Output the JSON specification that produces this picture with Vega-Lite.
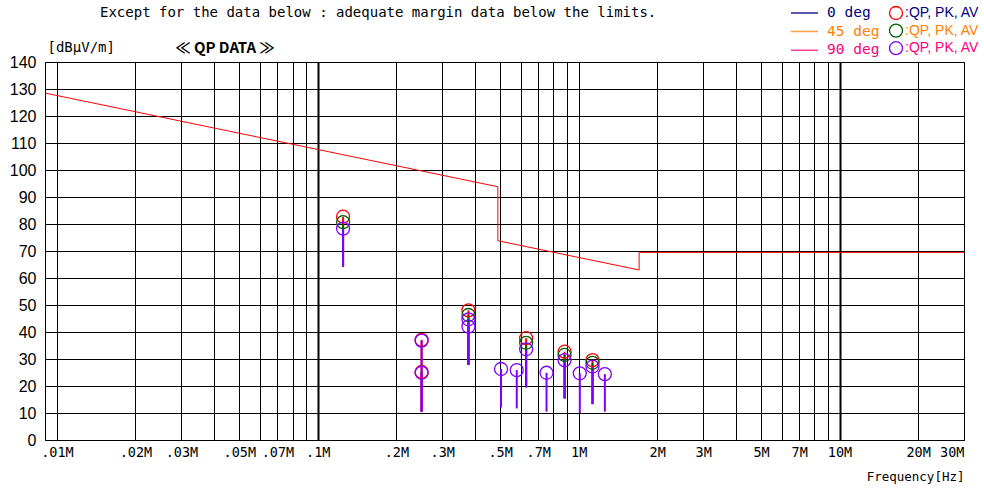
{
  "$schema": "https://vega.github.io/schema/vega-lite/v6.json",
  "width": 919,
  "height": 378,
  "autosize": {"type": "none"},
  "padding": {"left": 45, "top": 62, "right": 20, "bottom": 49},
  "background": "white",
  "title": {
    "text": "Except for the  data below : adequate margin data below the limits.",
    "anchor": "start", "frame": "group", "orient": "top", "dx": 55, "offset": 0, "dy": 21,
    "font": "DejaVu Sans Mono", "fontSize": 14, "fontWeight": "normal", "color": "#000", "baseline": "middle"
  },
  "datasets": {
    "limit": [
      {"i": 0, "f": 0.009, "v": 128.5},
      {"i": 1, "f": 0.49, "v": 93.8},
      {"i": 2, "f": 0.49, "v": 73.8},
      {"i": 3, "f": 1.705, "v": 62.97},
      {"i": 4, "f": 1.705, "v": 69.5},
      {"i": 5, "f": 30, "v": 69.5}
    ],
    "pts": [
      {"deg": "d0", "f": 0.125, "v": 82.7, "lo": 64.2},
      {"deg": "d0", "f": 0.25, "v": 37.1, "lo": 10.5},
      {"deg": "d0", "f": 0.25, "v": 25.2, "lo": 10.5},
      {"deg": "d0", "f": 0.378, "v": 48.0, "lo": 27.8},
      {"deg": "d0", "f": 0.629, "v": 37.7, "lo": 19.5},
      {"deg": "d0", "f": 0.883, "v": 32.7, "lo": 15.4},
      {"deg": "d0", "f": 1.13, "v": 29.6, "lo": 13.3},
      {"deg": "d45", "f": 0.125, "v": 80.7, "lo": 64.2},
      {"deg": "d45", "f": 0.378, "v": 46.3, "lo": 27.8},
      {"deg": "d45", "f": 0.629, "v": 36.0, "lo": 19.5},
      {"deg": "d45", "f": 0.883, "v": 31.5, "lo": 15.4},
      {"deg": "d45", "f": 1.13, "v": 28.6, "lo": 13.3},
      {"deg": "d90", "f": 0.125, "v": 78.3, "lo": 64.2},
      {"deg": "d90", "f": 0.25, "v": 36.8, "lo": 10.5},
      {"deg": "d90", "f": 0.25, "v": 24.9, "lo": 10.5},
      {"deg": "d90", "f": 0.378, "v": 44.7, "lo": 27.8},
      {"deg": "d90", "f": 0.378, "v": 42.0, "lo": 27.8},
      {"deg": "d90", "f": 0.504, "v": 26.3, "lo": 12.0},
      {"deg": "d90", "f": 0.579, "v": 25.9, "lo": 11.7},
      {"deg": "d90", "f": 0.629, "v": 33.6, "lo": 19.5},
      {"deg": "d90", "f": 0.753, "v": 24.9, "lo": 10.5},
      {"deg": "d90", "f": 0.883, "v": 29.6, "lo": 15.4},
      {"deg": "d90", "f": 1.01, "v": 24.7, "lo": 10.0},
      {"deg": "d90", "f": 1.13, "v": 27.2, "lo": 13.3},
      {"deg": "d90", "f": 1.26, "v": 24.4, "lo": 10.5}
    ],
    "leg": [
      {"deg": "0 deg"},
      {"deg": "45 deg"},
      {"deg": "90 deg"}
    ]
  },
  "layer": [
    {
      "data": {"name": "limit"},
      "mark": {"type": "line", "color": "#FF0000", "strokeWidth": 1},
      "encoding": {
        "x": {
          "field": "f", "type": "quantitative",
          "scale": {"type": "log", "domain": [0.009, 30], "nice": false},
          "axis": {
            "values": [0.01, 0.02, 0.03, 0.04, 0.05, 0.06, 0.07, 0.08, 0.09, 0.1, 0.2, 0.3, 0.4, 0.5, 0.6, 0.7, 0.8, 0.9, 1, 2, 3, 4, 5, 6, 7, 8, 9, 10, 20, 30],
            "grid": true, "gridColor": "#000", "gridOpacity": 1,
            "gridWidth": {"condition": {"test": "datum.value == 0.1 || datum.value == 10", "value": 2}, "value": 1},
            "ticks": false, "domain": false,
            "labelExpr": "indexof([0.01,0.02,0.03,0.05,0.07,0.1,0.2,0.3,0.5,0.7,1,2,3,5,7,10,20,30], datum.value) < 0 ? '' : (datum.value < 1 ? replace('' + datum.value, '0.', '.') : '' + datum.value) + 'M'",
            "labelFont": "DejaVu Sans Mono", "labelFontSize": 13.5, "labelColor": "#000",
            "labelPadding": 5, "labelFlush": 2, "labelOverlap": false, "labelBound": false,
            "title": "Frequency[Hz]", "titleFont": "DejaVu Sans Mono", "titleFontSize": 12.5,
            "titleFontWeight": "normal", "titleColor": "#000",
            "titleX": 919, "titleY": 36, "titleAlign": "right", "titleAnchor": "end", "titleBaseline": "middle"
          }
        },
        "y": {
          "field": "v", "type": "quantitative",
          "scale": {"domain": [0, 140], "nice": false, "zero": false},
          "axis": {
            "values": [0, 10, 20, 30, 40, 50, 60, 70, 80, 90, 100, 110, 120, 130, 140],
            "grid": true, "gridColor": "#000", "gridOpacity": 1, "gridWidth": 1,
            "ticks": false, "domain": false, "labelOverlap": false,
            "labelFont": "Liberation Sans, Arial", "labelFontSize": 16,
            "labelColor": "#000", "labelPadding": 9,
            "title": "[dBµV/m]", "titleAngle": 0, "titleX": 2, "titleY": -15,
            "titleAlign": "left", "titleBaseline": "middle",
            "titleFont": "DejaVu Sans Mono", "titleFontSize": 14, "titleFontWeight": "normal", "titleColor": "#000"
          }
        },
        "order": {"field": "i", "type": "quantitative"}
      }
    },
    {
      "data": {"name": "pts"},
      "mark": {"type": "rule", "strokeWidth": 2},
      "encoding": {
        "x": {"field": "f", "type": "quantitative", "scale": {"type": "log", "domain": [0.009, 30], "nice": false}, "axis": null},
        "y": {"field": "v", "type": "quantitative", "title": "[dBµV/m]", "axis": {
            "values": [0, 10, 20, 30, 40, 50, 60, 70, 80, 90, 100, 110, 120, 130, 140],
            "grid": true, "gridColor": "#000", "gridOpacity": 1, "gridWidth": 1,
            "ticks": false, "domain": false, "labelOverlap": false,
            "labelFont": "Liberation Sans, Arial", "labelFontSize": 16,
            "labelColor": "#000", "labelPadding": 9,
            "title": "[dBµV/m]", "titleAngle": 0, "titleX": 2, "titleY": -15,
            "titleAlign": "left", "titleBaseline": "middle",
            "titleFont": "DejaVu Sans Mono", "titleFontSize": 14, "titleFontWeight": "normal", "titleColor": "#000"
          }},
        "y2": {"field": "lo"},
        "color": {
          "field": "deg", "type": "nominal",
          "scale": {"domain": ["d0", "d45", "d90"], "range": ["#FF0000", "#006000", "#8000FF"]},
          "legend": {
            "orient": "none", "legendX": 843.5, "legendY": -56.5, "title": null, "padding": 0,
            "symbolType": "circle", "symbolSize": 169, "symbolStrokeWidth": 1.3, "symbolFillColor": "transparent",
            "labelExpr": "':QP, PK, AV'",
            "labelFont": "Liberation Sans, Arial", "labelFontSize": 14,
            "labelOffset": 1.5, "rowPadding": 2.6, "clipHeight": 15,
            "labelColor": {"expr": "datum.value == 'd0' ? '#000080' : datum.value == 'd45' ? '#FF8000' : '#FF0080'"}
          }
        }
      }
    },
    {
      "data": {"name": "pts"},
      "mark": {"type": "point", "shape": "circle", "filled": false, "size": 169, "strokeWidth": 1.3, "opacity": 1},
      "encoding": {
        "x": {"field": "f", "type": "quantitative", "scale": {"type": "log", "domain": [0.009, 30], "nice": false}, "axis": null},
        "y": {"field": "v", "type": "quantitative", "title": "[dBµV/m]", "axis": {
            "values": [0, 10, 20, 30, 40, 50, 60, 70, 80, 90, 100, 110, 120, 130, 140],
            "grid": true, "gridColor": "#000", "gridOpacity": 1, "gridWidth": 1,
            "ticks": false, "domain": false, "labelOverlap": false,
            "labelFont": "Liberation Sans, Arial", "labelFontSize": 16,
            "labelColor": "#000", "labelPadding": 9,
            "title": "[dBµV/m]", "titleAngle": 0, "titleX": 2, "titleY": -15,
            "titleAlign": "left", "titleBaseline": "middle",
            "titleFont": "DejaVu Sans Mono", "titleFontSize": 14, "titleFontWeight": "normal", "titleColor": "#000"
          }},
        "color": {
          "field": "deg", "type": "nominal",
          "scale": {"domain": ["d0", "d45", "d90"], "range": ["#FF0000", "#006000", "#8000FF"]},
          "legend": {
            "orient": "none", "legendX": 843.5, "legendY": -56.5, "title": null, "padding": 0,
            "symbolType": "circle", "symbolSize": 169, "symbolStrokeWidth": 1.3, "symbolFillColor": "transparent",
            "labelExpr": "':QP, PK, AV'",
            "labelFont": "Liberation Sans, Arial", "labelFontSize": 14,
            "labelOffset": 1.5, "rowPadding": 2.6, "clipHeight": 15,
            "labelColor": {"expr": "datum.value == 'd0' ? '#000080' : datum.value == 'd45' ? '#FF8000' : '#FF0080'"}
          }
        }
      }
    },
    {
      "data": {"name": "leg"},
      "mark": {"type": "line", "strokeWidth": 1.5},
      "encoding": {
        "x": {
          "field": "f", "type": "quantitative",
          "scale": {"type": "log", "domain": [0.009, 30], "nice": false},
          "axis": {
            "orient": "top", "labels": false, "ticks": false, "domain": false, "grid": false,
            "title": "≪ QP DATA ≫", "titleFont": "Noto Sans CJK JP", "titleFontSize": 15, "titleFontWeight": "bold", "titleColor": "#000",
            "titleX": 130, "titleY": -15, "titleAlign": "left", "titleAnchor": "start", "titleBaseline": "middle"
          }
        },
        "y": {"field": "v", "type": "quantitative", "title": "[dBµV/m]", "axis": {
            "values": [0, 10, 20, 30, 40, 50, 60, 70, 80, 90, 100, 110, 120, 130, 140],
            "grid": true, "gridColor": "#000", "gridOpacity": 1, "gridWidth": 1,
            "ticks": false, "domain": false, "labelOverlap": false,
            "labelFont": "Liberation Sans, Arial", "labelFontSize": 16,
            "labelColor": "#000", "labelPadding": 9,
            "title": "[dBµV/m]", "titleAngle": 0, "titleX": 2, "titleY": -15,
            "titleAlign": "left", "titleBaseline": "middle",
            "titleFont": "DejaVu Sans Mono", "titleFontSize": 14, "titleFontWeight": "normal", "titleColor": "#000"
          }},
        "stroke": {
          "field": "deg", "type": "nominal",
          "scale": {"domain": ["0 deg", "45 deg", "90 deg"], "range": ["#202098", "#FFA040", "#FF40A0"]},
          "legend": {
            "orient": "none", "legendX": 745, "legendY": -56.5, "title": null, "padding": 0,
            "symbolType": "stroke", "symbolSize": 729, "symbolStrokeWidth": 1.5,
            "labelFont": "DejaVu Sans Mono", "labelFontSize": 14.5,
            "labelOffset": 8, "rowPadding": 2.6, "clipHeight": 15,
            "labelColor": {"expr": "datum.value == '0 deg' ? '#000080' : datum.value == '45 deg' ? '#FF8000' : '#FF0080'"}
          }
        }
      }
    }
  ],
  "resolve": {"axis": {"x": "independent"}},
  "config": {
    "view": {"stroke": "#000", "strokeWidth": 1},
    "axis": {"ticks": false, "domain": false}
  }
}
